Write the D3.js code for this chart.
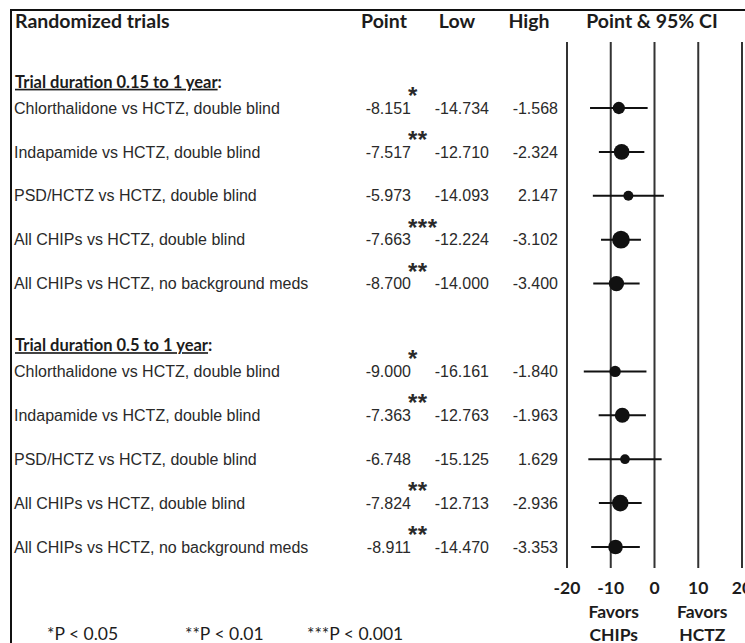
<!DOCTYPE html>
<html>
<head>
<meta charset="utf-8">
<script src="https://cdn.jsdelivr.net/npm/d3@7/dist/d3.min.js"></script>
<style>
  html, body { margin: 0; padding: 0; background: #fff; }
  svg { display: block; }
</style>
</head>
<body>
<svg id="chart" width="745" height="643"></svg>
<script>
// ---------------- data ----------------
const title = "Randomized trials";
const columnHeads = ["Point", "Low", "High", "Point & 95% CI"];
const groupTitles = ["Trial duration 0.15 to 1 year", "Trial duration 0.5 to 1 year"];
const rowLabels = [
  "Chlorthalidone vs HCTZ, double blind",
  "Indapamide vs HCTZ, double blind",
  "PSD/HCTZ vs HCTZ, double blind",
  "All CHIPs vs HCTZ, double blind",
  "All CHIPs vs HCTZ, no background meds",
  "Chlorthalidone vs HCTZ, double blind",
  "Indapamide vs HCTZ, double blind",
  "PSD/HCTZ vs HCTZ, double blind",
  "All CHIPs vs HCTZ, double blind",
  "All CHIPs vs HCTZ, no background meds"
];
const rowGroup = [0, 0, 0, 0, 0, 1, 1, 1, 1, 1];
const pointVals = [-8.151, -7.517, -5.973, -7.663, -8.700, -9.000, -7.363, -6.748, -7.824, -8.911];
const lowVals   = [-14.734, -12.710, -14.093, -12.224, -14.000, -16.161, -12.763, -15.125, -12.713, -14.470];
const highVals  = [-1.568, -2.324, 2.147, -3.102, -3.400, -1.840, -1.963, 1.629, -2.936, -3.353];
const sigMarks  = ["*", "**", "", "***", "**", "*", "**", "", "**", "**"];
const xTicks = [-20, -10, 0, 10, 20];
const favorLabels = [["Favors", "CHIPs"], ["Favors", "HCTZ"]];
const footnotes = ["*P < 0.05", "**P < 0.01", "***P < 0.001"];

// ---------------- layout ----------------
const svg = d3.select("#chart");
const W = 745, H = 643;
const calibri = "Lato, 'Open Sans', sans-serif";
const arial = "'Liberation Sans', Arial, sans-serif";
const ink = "#1c1c1c";
const textInk = "#2a2a2a";

const rows = rowLabels.map((label, i) => ({
  label, group: rowGroup[i], slot: i + rowGroup[i],
  point: pointVals[i], low: lowVals[i], high: highVals[i], sig: sigMarks[i],
  weight: 1 / Math.pow((highVals[i] - lowVals[i]) / 3.92, 2)
}));

const x = d3.scaleLinear().domain([-20, 20]).range([567, 742]);
const y = d3.scaleLinear().domain([0, 10]).range([108, 547]);
const r = d3.scaleSqrt().domain([0, d3.max(rows, d => d.weight)]).range([0, 8.9]);

// border
svg.append("line").attr("x1", 10).attr("x2", W).attr("y1", 10).attr("y2", 10)
  .attr("stroke", "#111").attr("stroke-width", 2);
svg.append("line").attr("x1", 11).attr("x2", 11).attr("y1", 10).attr("y2", H)
  .attr("stroke", "#111").attr("stroke-width", 2);

// header
svg.append("text").attr("x", 15).attr("y", 28).text(title)
  .attr("font-family", calibri).attr("font-weight", 700).attr("font-size", 19.5).attr("fill", ink);
const headX = [384, 457, 529, 652];
svg.selectAll("text.colhead").data(columnHeads).join("text")
  .attr("class", "colhead")
  .attr("x", (d, i) => headX[i]).attr("y", 28)
  .attr("text-anchor", "middle")
  .attr("font-family", calibri).attr("font-weight", 700).attr("font-size", 19.5).attr("fill", ink)
  .text(d => d);

// gridlines
svg.selectAll("line.grid").data(xTicks).join("line")
  .attr("class", "grid")
  .attr("x1", d => x(d)).attr("x2", d => x(d))
  .attr("y1", 42).attr("y2", 568)
  .attr("stroke", "#333").attr("stroke-width", 2);

// tick labels
svg.selectAll("text.tick").data(xTicks).join("text")
  .attr("class", "tick")
  .attr("x", d => x(d)).attr("y", 594)
  .attr("text-anchor", "middle")
  .attr("font-family", calibri).attr("font-weight", 700).attr("font-size", 17.5).attr("fill", ink)
  .text(d => d);

// favors labels
const favX = [x(-10) + 3, x(10) + 4];
favorLabels.forEach((lines, k) => {
  lines.forEach((t, j) => {
    svg.append("text").attr("x", favX[k]).attr("y", 618 + j * 23)
      .attr("text-anchor", "middle")
      .attr("font-family", calibri).attr("font-weight", 700).attr("font-size", 17.5).attr("fill", ink)
      .text(t);
  });
});

// group titles
groupTitles.forEach((g, k) => {
  const first = rows.find(d => d.group === k);
  const t = svg.append("text").attr("x", 15).attr("y", y(first.slot) - 26).attr("dy", "0.35em")
    .attr("font-family", calibri).attr("font-weight", 700).attr("font-size", 16.5).attr("fill", ink);
  t.append("tspan").attr("text-decoration", "underline").text(g);
  t.append("tspan").text(":");
});

// row labels and numbers
const fmt = v => v.toFixed(3);
const numCols = [
  { key: "point", right: 411 },
  { key: "low", right: 489 },
  { key: "high", right: 558 }
];
const rowG = svg.selectAll("g.row").data(rows).join("g").attr("class", "row");
rowG.append("text").attr("x", 14).attr("y", d => y(d.slot)).attr("dy", "0.35em")
  .attr("font-family", arial).attr("font-size", 16).attr("fill", textInk)
  .text(d => d.label);
numCols.forEach(c => {
  rowG.append("text").attr("x", c.right).attr("y", d => y(d.slot)).attr("dy", "0.35em")
    .attr("text-anchor", "end")
    .attr("font-family", arial).attr("font-size", 16).attr("fill", textInk)
    .text(d => fmt(d[c.key]));
});
rowG.filter(d => d.sig).append("text")
  .attr("x", 408).attr("y", d => y(d.slot) - 4)
  .attr("font-family", arial).attr("font-weight", 700).attr("font-size", 24).attr("letter-spacing", 0.5).attr("fill", textInk)
  .text(d => d.sig);

// CI lines + points
rowG.append("line")
  .attr("x1", d => x(d.low)).attr("x2", d => x(d.high))
  .attr("y1", d => y(d.slot)).attr("y2", d => y(d.slot))
  .attr("stroke", "#111").attr("stroke-width", 2);
rowG.append("circle")
  .attr("cx", d => x(d.point)).attr("cy", d => y(d.slot))
  .attr("r", d => r(d.weight)).attr("fill", "#111");

// footnotes
const footX = [47, 185, 307];
svg.selectAll("text.foot").data(footnotes).join("text")
  .attr("class", "foot")
  .attr("x", (d, i) => footX[i]).attr("y", 640)
  .attr("font-family", calibri).attr("font-size", 17.5).attr("fill", ink)
  .text(d => d);
</script>
</body>
</html>
